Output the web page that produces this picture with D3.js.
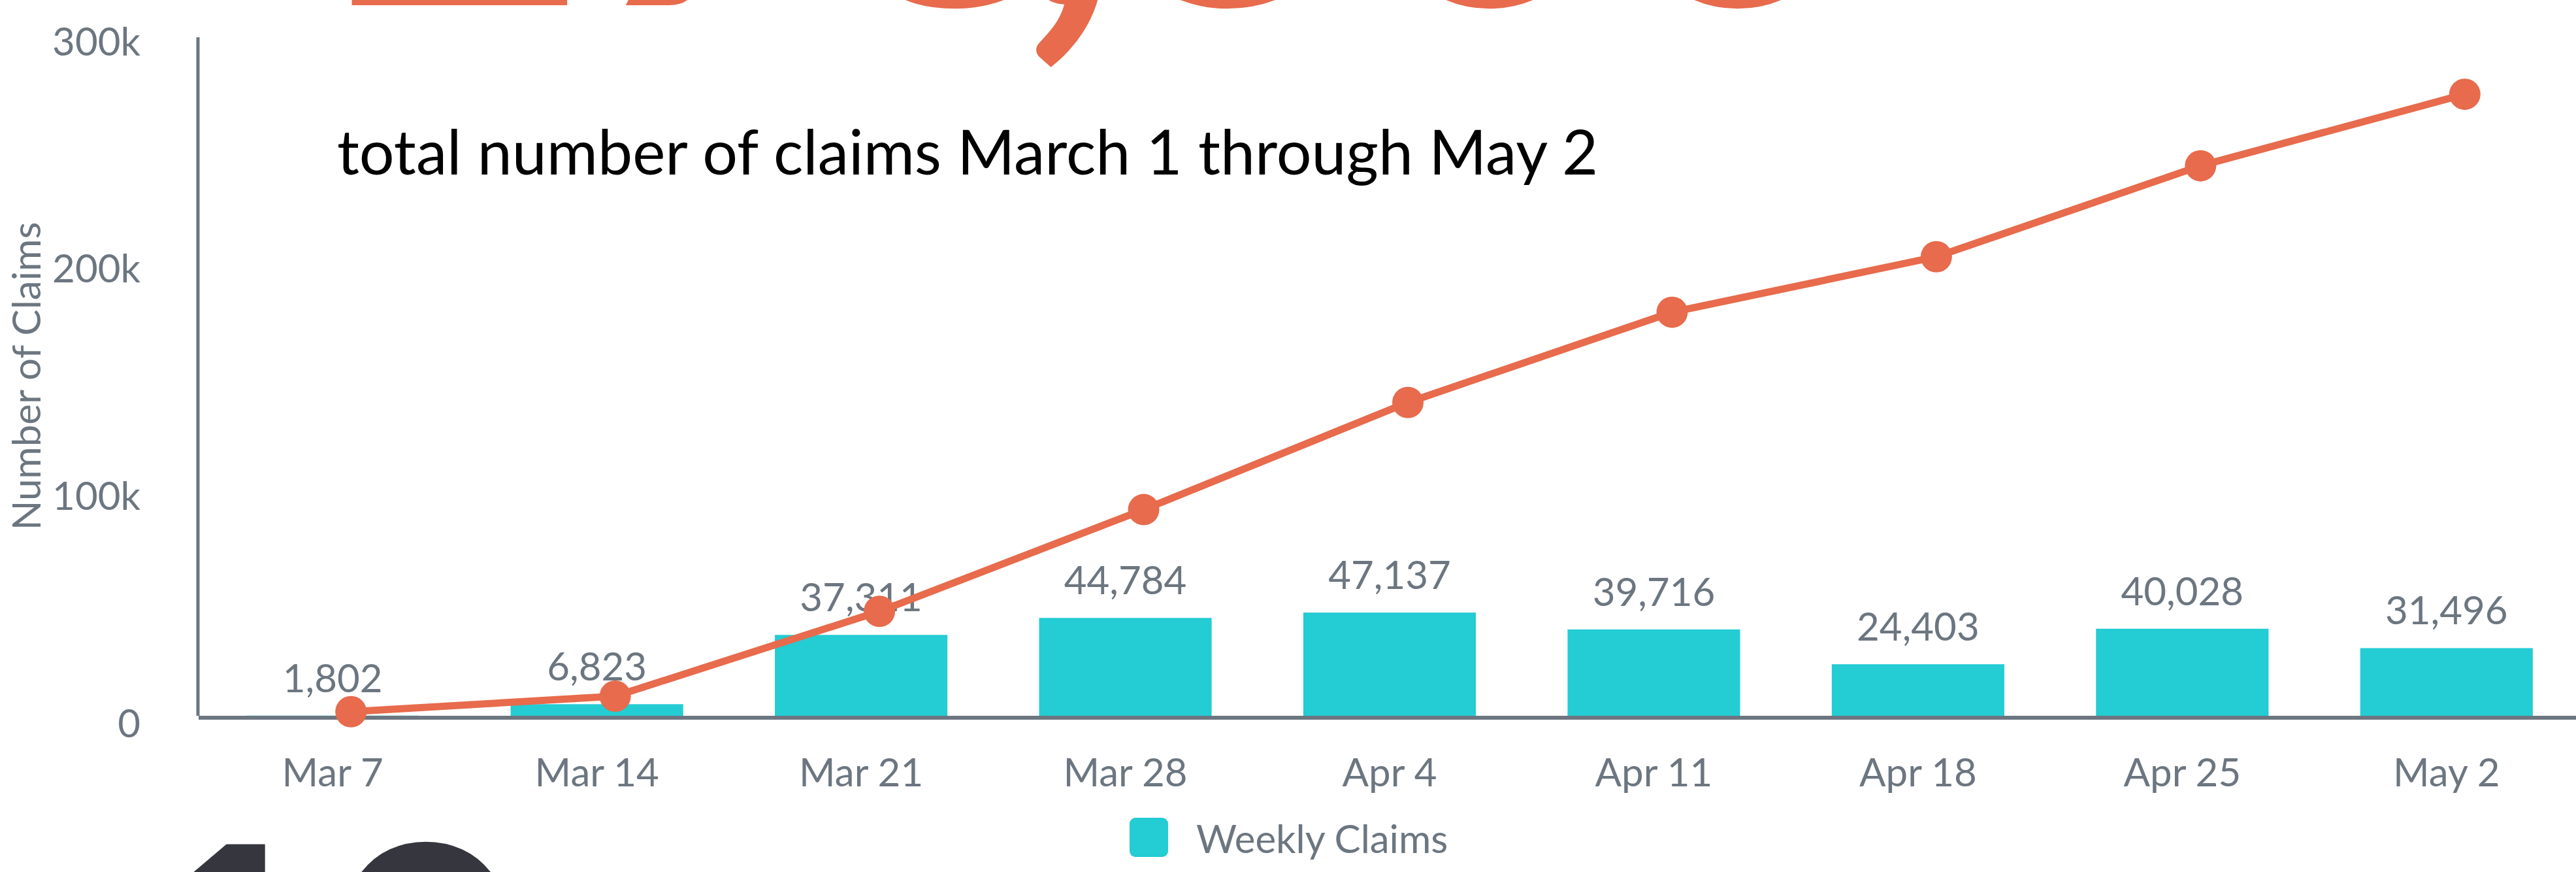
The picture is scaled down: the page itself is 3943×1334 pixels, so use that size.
<!DOCTYPE html>
<html>
<head>
<meta charset="utf-8">
<script src="https://cdn.jsdelivr.net/npm/d3@7"></script>
<style>
  body { margin: 0; background: #fff; }
  svg { display: block; font-family: Lato, "Open Sans", sans-serif; }
</style>
</head>
<body>
<div id="plot"></div>
<script>
const weeks = ['Mar 7', 'Mar 14', 'Mar 21', 'Mar 28', 'Apr 4', 'Apr 11', 'Apr 18', 'Apr 25', 'May 2'];
const weeklyClaims = [1802, 6823, 37311, 44784, 47137, 39716, 24403, 40028, 31496];
const totalClaims = [1802, 8625, 45936, 90720, 137857, 177573, 201976, 242004, 273500];
const yTicks = [0, 100000, 200000, 300000];
const headlineParts = ['273', ',', '500'];
const subtitle = 'total number of claims March 1 through May 2';
const bottomFigure = '10';
const seriesName = 'Weekly Claims';
const yTitle = 'Number of Claims';

let data = weeks.map((w, i) => ({week: w, weekly: weeklyClaims[i], total: totalClaims[i]}));

let svgWidth = 3943;
let svgHeight = 1334;
let plot = {left: 304, right: 3947, top: 52, bottom: 1095};

let teal = '#24ccd3';
let orange = '#e76b4c';
let grey = '#6c7680';

let svg = d3.select('#plot')
            .append('svg')
                .attr('width', svgWidth)
                .attr('height', svgHeight);

let x = d3.scaleBand()
            .domain(weeks)
            .range([plot.left + 3, plot.right])
            .paddingInner(0.347)
            .paddingOuter(0.1735);

let y = d3.scaleLinear()
            .domain([0, 300000])
            .range([plot.bottom, plot.top]);

// big headline numbers, cut off by the picture edges
let head = svg.append('text')
    .attr('x', 516)
    .attr('y', 8)
    .attr('font-size', 655)
    .attr('font-weight', 900)
    .attr('fill', orange);
head.append('tspan').text(headlineParts[0]);
head.append('tspan').attr('dx', -100).text(headlineParts[1]);
head.append('tspan').text(headlineParts[2]);

svg.append('text')
    .attr('x', 200)
    .attr('y', 1669)
    .attr('font-size', 520)
    .attr('font-weight', 900)
    .attr('fill', '#35363e')
    .text(bottomFigure);

svg.append('text')
    .attr('x', 516)
    .attr('y', 267)
    .attr('font-size', 95)
    .attr('fill', '#000')
    .text(subtitle);

// bars
let barInset = 6;
svg.append('g')
    .selectAll('rect')
    .data(data)
    .join('rect')
        .attr('x', d => x(d.week))
        .attr('width', x.bandwidth())
        .attr('y', d => Math.min(y(d.weekly) + barInset, y(0)))
        .attr('height', d => Math.max(0, y(0) - y(d.weekly) - barInset))
        .attr('fill', teal);

// axes
let yAxis = d3.axisLeft(y)
                .tickValues(yTicks)
                .tickSize(0)
                .tickPadding(89)
                .tickFormat(d => d === 0 ? '0' : d / 1000 + 'k');

let gy = svg.append('g')
    .attr('transform', `translate(${plot.left},0)`)
    .call(yAxis);
gy.select('.domain').remove();
gy.selectAll('text')
    .attr('dy', 32)
    .attr('font-size', 60)
    .attr('font-family', 'Lato')
    .attr('fill', grey);

let xAxis = d3.axisBottom(x).tickSize(0);
let gx = svg.append('g')
    .attr('transform', `translate(0,${plot.bottom})`)
    .call(xAxis);
gx.select('.domain').remove();
gx.selectAll('text')
    .attr('dy', null)
    .attr('y', 108)
    .attr('font-size', 60)
    .attr('font-family', 'Lato')
    .attr('fill', grey);

svg.append('line')
    .attr('x1', plot.left - 1).attr('x2', plot.left - 1)
    .attr('y1', y(0)).attr('y2', y(300000) + 5)
    .attr('stroke', grey)
    .attr('stroke-width', 5);

svg.append('line')
    .attr('x1', plot.left).attr('x2', svgWidth)
    .attr('y1', y(0) + 3).attr('y2', y(0) + 3)
    .attr('stroke', grey)
    .attr('stroke-width', 6);

svg.append('text')
    .attr('transform', `translate(62,${(plot.top + plot.bottom) / 2 + 2}) rotate(-90)`)
    .attr('text-anchor', 'middle')
    .attr('font-size', 60)
    .attr('fill', grey)
    .text(yTitle);

// value labels above bars
svg.append('g')
    .selectAll('text')
    .data(data)
    .join('text')
        .attr('x', d => x(d.week) + x.bandwidth() / 2)
        .attr('y', d => Math.min(y(d.weekly) + barInset, y(0)) - 36)
        .attr('text-anchor', 'middle')
        .attr('font-size', 60)
        .attr('fill', grey)
        .text(d => d3.format(',')(d.weekly));

// cumulative line
let lineShift = 28;
let line = d3.line()
    .x(d => x(d.week) + x.bandwidth() / 2 + lineShift)
    .y(d => y(d.total));

svg.append('path')
    .datum(data)
    .attr('d', line)
    .attr('fill', 'none')
    .attr('stroke', orange)
    .attr('stroke-width', 11);

svg.append('g')
    .selectAll('circle')
    .data(data)
    .join('circle')
        .attr('cx', d => x(d.week) + x.bandwidth() / 2 + lineShift)
        .attr('cy', d => y(d.total))
        .attr('r', 24)
        .attr('fill', orange);

// legend
let legend = svg.append('g').attr('transform', 'translate(1729,1251)');
legend.append('rect')
    .attr('width', 59).attr('height', 60)
    .attr('rx', 9)
    .attr('fill', teal);
legend.append('text')
    .attr('x', 102)
    .attr('y', 54)
    .attr('font-size', 60)
    .attr('fill', grey)
    .text(seriesName);
</script>
</body>
</html>
